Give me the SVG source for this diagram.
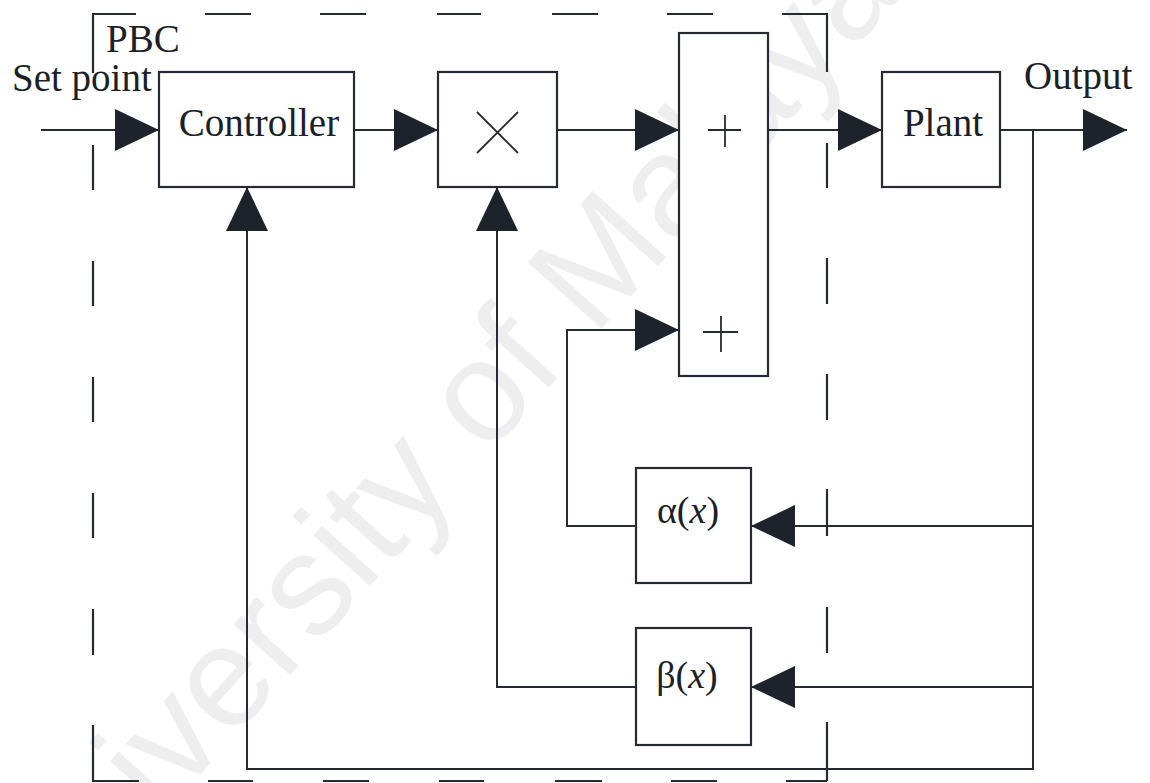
<svg xmlns="http://www.w3.org/2000/svg" width="1150" height="783" viewBox="0 0 1150 783">
  <defs>
    <marker id="arr" markerUnits="userSpaceOnUse" markerWidth="44" markerHeight="42" refX="44" refY="21" orient="auto">
      <path d="M0,0 L44,21 L0,42 Z" fill="#1e232b"/>
    </marker>
    <style>
      .box { fill: #ffffff; stroke: #262b33; stroke-width: 2.2; }
      .arrow { fill: none; stroke: #262b33; stroke-width: 2; marker-end: url(#arr); }
      .sym { fill: none; stroke: #262b33; stroke-width: 1.8; }
      .dash { fill: none; stroke: #262b33; stroke-width: 2.2; stroke-linecap: butt; }
      .lbl { font-family: "Liberation Serif", "Times New Roman", serif; font-size: 39px; fill: #1b1f27; }
      .fn { font-family: "Liberation Serif", "Times New Roman", serif; font-size: 38px; fill: #1b1f27; }
      .wm { font-family: "Liberation Sans", Arial, sans-serif; font-size: 144px; fill: #eeeeee; }
    </style>
  </defs>
  <rect width="1150" height="783" fill="#ffffff"/>

  <text class="wm" transform="translate(37,956) rotate(-48)">University of Malaya</text>

  <g id="pbc-frame">
    <path class="dash" d="M93,73 V14 H136 M205,14 H251 M320,14 H366 M437,14 H481 M552,14 H598 M667,14 H713 M782,14 H827 V72
      M93,145 V190 M93,261 V306 M93,377 V422 M93,493 V538 M93,609 V655 M93,725 V781 H139
      M827,143 V188 M827,258 V304 M827,374 V420 M827,489 V536 M827,607 V653 M827,722 V781
      M208,781 H253 M323,781 H369 M439,781 H484 M555,781 H602 M671,781 H717 M786,781 H827"/>
    <text class="lbl" x="106" y="52">PBC</text>
  </g>

  <g id="connectors">
    <path class="arrow" d="M41,130 H159"/>
    <path class="arrow" d="M354,130 H438"/>
    <path class="arrow" d="M557,130 H679"/>
    <path class="arrow" d="M768,130 H882"/>
    <path class="arrow" d="M1000,130 H1127"/>
    <path class="arrow" d="M1033,130 V769 H247 V187"/>
    <path class="arrow" d="M1033,526 H751"/>
    <path class="arrow" d="M1033,687 H751"/>
    <path class="arrow" d="M636,526 H567 V330 H679"/>
    <path class="arrow" d="M636,687 H497 V187"/>
  </g>

  <g id="setpoint">
    <text class="lbl" x="12" y="91">Set point</text>
  </g>

  <g id="controller">
    <rect class="box" x="159" y="72" width="195" height="115"/>
    <text class="lbl" x="259" y="136" text-anchor="middle">Controller</text>
  </g>

  <g id="multiplier">
    <rect class="box" x="438" y="72" width="119" height="115"/>
    <path class="sym" d="M477,112 L518,153 M477,153 L518,112"/>
  </g>

  <g id="summer">
    <rect class="box" x="679" y="33" width="89" height="343"/>
    <path class="sym" d="M708,130 H741 M725,115 V147"/>
    <path class="sym" d="M703,332 H738 M721,316 V352"/>
  </g>

  <g id="plant">
    <rect class="box" x="882" y="72" width="118" height="115"/>
    <text class="lbl" x="943" y="136" text-anchor="middle">Plant</text>
  </g>

  <g id="output">
    <text class="lbl" x="1024" y="89">Output</text>
  </g>

  <g id="alpha">
    <rect class="box" x="636" y="468" width="115" height="115"/>
    <text class="fn" x="688" y="523" text-anchor="middle">α(<tspan font-style="italic">x</tspan>)</text>
  </g>

  <g id="beta">
    <rect class="box" x="636" y="628" width="115" height="117"/>
    <text class="fn" x="687" y="688" text-anchor="middle">β(<tspan font-style="italic">x</tspan>)</text>
  </g>
</svg>
